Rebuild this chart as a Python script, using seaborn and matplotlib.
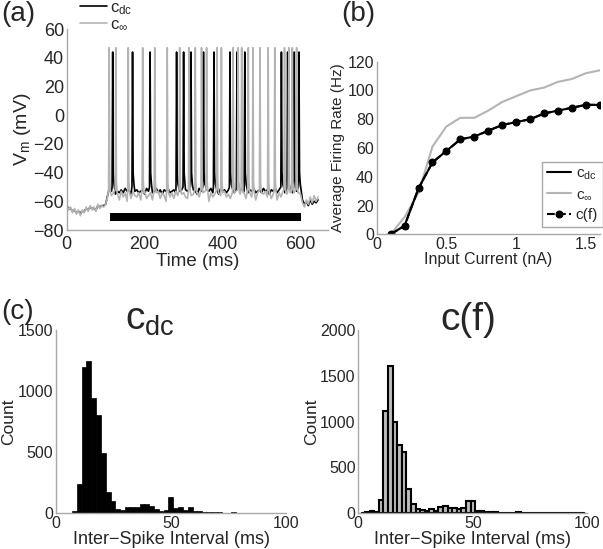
import numpy as np
import matplotlib
matplotlib.use("Agg")
import matplotlib.pyplot as plt
import seaborn as sns

# -----------------------------
# Panel (a): membrane voltage traces
# -----------------------------
trace_step = 5  # ms between baseline samples
stim_on, stim_off = 110, 600
stim_bar_lo, stim_bar_hi = -74, -68

spikes_dc = [118, 169, 214, 282, 300, 319, 351, 378, 419, 437, 457, 551, 567, 584, 596]
spikes_inf = [109, 126, 158, 195, 226, 258, 290, 314, 330, 346, 359, 386, 397, 427,
              440, 449, 466, 478, 496, 517, 534, 559, 570, 579, 590]

# spike waveform: time offsets (ms) and voltages (mV)
spike_dt = [-1.5, 0, 1.5, 3.5]
spike_v_dc = [-50, 44, -40, -48]
spike_v_inf = [-52, 47, -46, -54]

base_dc = ([-63, -65, -65, -67, -66, -68, -67, -68, -67, -67, -65, -66, -64, -65, -65,
            -66, -63, -64, -63, -63, -62, -56] +
           [-50, -53, -52, -55, -53, -54, -52, -54, -51, -53, -52, -55, -51, -53, -52, -54, -53, -52, -55, -51,
            -53, -52, -54, -53, -51, -54, -52, -55, -52, -53, -51, -54, -53, -52, -54, -51, -53, -52, -55, -52,
            -53, -51, -54, -52, -53, -55, -51, -53, -52, -54, -52, -53, -51, -54, -53, -52, -55, -51, -53, -52,
            -54, -52, -53, -51, -54, -52, -55, -53, -51, -53, -52, -54, -52, -53, -51, -54, -53, -52, -54, -51,
            -53, -52, -55, -52, -53, -51, -54, -52, -53, -52, -54, -51, -53, -52, -54, -52, -53, -51] +
           [-53, -59, -62, -60, -63, -59, -62, -60, -61, -59])

base_inf = ([-62, -66, -64, -68, -65, -69, -66, -70, -66, -68, -64, -67, -63, -66, -64,
             -67, -62, -65, -63, -64, -62, -57] +
            [-52, -56, -54, -58, -55, -59, -53, -57, -54, -60, -55, -58, -53, -56, -57, -54, -59, -55, -53, -58,
             -56, -54, -59, -55, -57, -53, -58, -54, -56, -60, -55, -57, -54, -58, -53, -56, -59, -55, -54, -57,
             -58, -53, -56, -55, -59, -54, -57, -55, -58, -53, -56, -60, -54, -57, -55, -58, -54, -56, -59, -53,
             -57, -55, -58, -54, -56, -53, -59, -55, -57, -54, -58, -56, -53, -57, -55, -59, -54, -56, -58, -55,
             -53, -57, -54, -58, -55, -56, -59, -54, -57, -53, -58, -55, -56, -54, -57, -53, -55, -54] +
            [-55, -61, -64, -59, -62, -57, -61, -56, -60, -57])

# -----------------------------
# Panel (b): f-I curves
# -----------------------------
current = [0.1, 0.2, 0.3, 0.4, 0.5, 0.6, 0.7, 0.8, 0.9, 1.0, 1.1, 1.2, 1.3, 1.4, 1.5, 1.6]
rate_dc = [0, 6, 32, 50, 58, 66, 68, 72, 76, 78, 80, 84, 86, 88, 90, 90]
rate_inf = [0, 12, 29, 61, 75, 81, 81, 86, 92, 96, 100, 102, 106, 108, 112, 114]
rate_cf = [0, 6, 32, 50, 58, 66, 68, 72, 76, 78, 80, 84, 86, 88, 90, 90]

# -----------------------------
# Panel (c): ISI histograms
# -----------------------------
isi_edges_dc = [0.6 + 2.1 * k for k in range(48)]
isi_counts_dc = [0, 0, 2, 15, 240, 1200, 1250, 940, 800, 490, 170, 95, 30, 25, 45, 45, 45,
                 75, 70, 55, 30, 20, 25, 135, 40, 45, 25, 45, 15, 15, 8, 8, 5, 5, 3, 3, 5,
                 3, 3, 2, 3, 2, 0, 0, 0, 2, 0]
isi_edges_cf = list(range(1, 101, 2))
isi_counts_cf = [7, 15, 20, 10, 150, 1120, 1610, 1000, 740, 665, 265, 100, 50, 35, 20, 45,
                 30, 70, 85, 60, 55, 50, 55, 135, 130, 20, 20, 15, 15, 10, 5, 5, 5, 5, 15,
                 5, 3, 3, 3, 3, 8, 8, 8, 3, 3, 3, 3, 3, 3]

GRAY = "#b4b4b4"
SPINE = "#a8a8a8"


def build_trace(base, spikes, spike_v):
    """Baseline samples with spike waveforms inserted at the spike times."""
    t = np.arange(len(base)) * trace_step
    v = np.array(base, dtype=float)
    keep = np.ones(len(t), dtype=bool)
    for s in spikes:
        keep &= ~((t > s - 2) & (t < s + 4.5))
    ts = list(t[keep])
    vs = list(v[keep])
    for s in spikes:
        ts += [s + d for d in spike_dt]
        vs += spike_v
    order = np.argsort(ts)
    return np.array(ts)[order], np.array(vs)[order]


def style_axes(ax, size):
    sns.despine(ax=ax)
    for side in ("left", "bottom"):
        ax.spines[side].set_color(SPINE)
        ax.spines[side].set_linewidth(1.0)
    ax.tick_params(direction="in", length=3, color=SPINE, labelsize=size, pad=2)


sns.set_style("white")
plt.rcParams["font.family"] = ["Liberation Sans", "DejaVu Sans"]
plt.rcParams["mathtext.fontset"] = "custom"
plt.rcParams["mathtext.rm"] = "Liberation Sans"
plt.rcParams["mathtext.it"] = "Liberation Sans"
plt.rcParams["axes.unicode_minus"] = True

fig = plt.figure(figsize=(6.03, 5.49), dpi=100)
ax_a = fig.add_axes([0.1106, 0.581, 0.433, 0.366])
ax_b = fig.add_axes([0.6247, 0.5732, 0.370, 0.3144])
ax_c1 = fig.add_axes([0.0929, 0.0656, 0.3814, 0.3333])
ax_c2 = fig.add_axes([0.5942, 0.065, 0.3798, 0.334])

# (a)
t_dc, v_dc = build_trace(base_dc, spikes_dc, spike_v_dc)
t_inf, v_inf = build_trace(base_inf, spikes_inf, spike_v_inf)
sns.lineplot(x=t_dc, y=v_dc, ax=ax_a, color="black", lw=1.2, estimator=None, sort=False)
sns.lineplot(x=t_inf, y=v_inf, ax=ax_a, color=GRAY, lw=1.2, estimator=None, sort=False)
ax_a.fill_between([stim_on, stim_off], stim_bar_lo, stim_bar_hi, color="black", lw=0)
ax_a.set_xlim(0, 670)
ax_a.set_ylim(-80, 60)
ax_a.set_xticks([0, 200, 400, 600])
ax_a.set_yticks(range(-80, 61, 20))
ax_a.set_xlabel("Time (ms)", fontsize=13.5, labelpad=0)
ax_a.set_ylabel(r"V$_\mathrm{m}$ (mV)", fontsize=14, labelpad=0)
style_axes(ax_a, 13)
ax_a.tick_params(axis="x", pad=4)
leg_a = ax_a.legend(ax_a.lines[:2], [r"c$_\mathrm{dc}$", r"c$_\infty$"],
                    loc="upper left", bbox_to_anchor=(0.133, 1.0),
                    bbox_transform=fig.transFigure, frameon=False, fontsize=12,
                    handlelength=1.6, handletextpad=0.2, labelspacing=0.0,
                    borderpad=0, borderaxespad=0)

# (b)
sns.lineplot(x=current, y=rate_inf, ax=ax_b, color=GRAY, lw=1.5, label=r"c$_\infty$")
sns.lineplot(x=current, y=rate_dc, ax=ax_b, color="black", lw=1.5, label=r"c$_\mathrm{dc}$")
sns.lineplot(x=current, y=rate_cf, ax=ax_b, color="black", lw=1.5, ls="--",
             marker="o", markersize=5, markeredgecolor="black", label="c(f)")
ax_b.set_xlim(0, 1.6)
ax_b.set_ylim(0, 120)
ax_b.set_xticks([0, 0.5, 1, 1.5])
ax_b.set_xticklabels(["0", "0.5", "1", "1.5"])
ax_b.set_yticks(range(0, 121, 20))
ax_b.set_xlabel("Input Current (nA)", fontsize=11.5, labelpad=0)
ax_b.set_ylabel("Average Firing Rate (Hz)", fontsize=11, labelpad=2)
style_axes(ax_b, 11.5)
h, l = ax_b.get_legend_handles_labels()
leg_b = ax_b.legend([h[1], h[0], h[2]], [l[1], l[0], l[2]], loc="lower right",
                    bbox_to_anchor=(0.9995, 0.587), bbox_transform=fig.transFigure,
                    fontsize=11, fancybox=False, edgecolor=SPINE, framealpha=1,
                    handlelength=1.6, handletextpad=0.3, labelspacing=0.4,
                    borderpad=0.3, borderaxespad=0)
leg_b.get_frame().set_linewidth(1.0)

# (c)
sns.histplot(x=isi_edges_dc[:-1], weights=isi_counts_dc, bins=isi_edges_dc, ax=ax_c1,
             color="black", edgecolor="black", alpha=1, linewidth=0.5)
sns.histplot(x=isi_edges_cf[:-1], weights=isi_counts_cf, bins=isi_edges_cf, ax=ax_c2,
             color="#bdbdbd", edgecolor="black", alpha=1, linewidth=1.5)
for ax, ymax, title, tx in ((ax_c1, 1500, r"c$_\mathrm{dc}$", 0.41),
                            (ax_c2, 2000, "c(f)", 0.479)):
    ax.set_xlim(0, 100)
    ax.set_ylim(0, ymax)
    ax.set_xticks([0, 50, 100])
    ax.set_yticks(range(0, ymax + 1, 500))
    ax.set_xlabel("Inter\u2212Spike Interval (ms)", fontsize=13, labelpad=0)
    ax.set_ylabel("Count", fontsize=12.5, labelpad=1)
    ax.set_title(title, fontsize=28, x=tx, pad=0)
    style_axes(ax, 11.5)

fig.text(0.002, 0.998, "(a)", fontsize=20, ha="left", va="top")
fig.text(0.5655, 0.998, "(b)", fontsize=20, ha="left", va="top")
fig.text(0.002, 0.456, "(c)", fontsize=20, ha="left", va="top")

fig.savefig("out.png", dpi=100)
